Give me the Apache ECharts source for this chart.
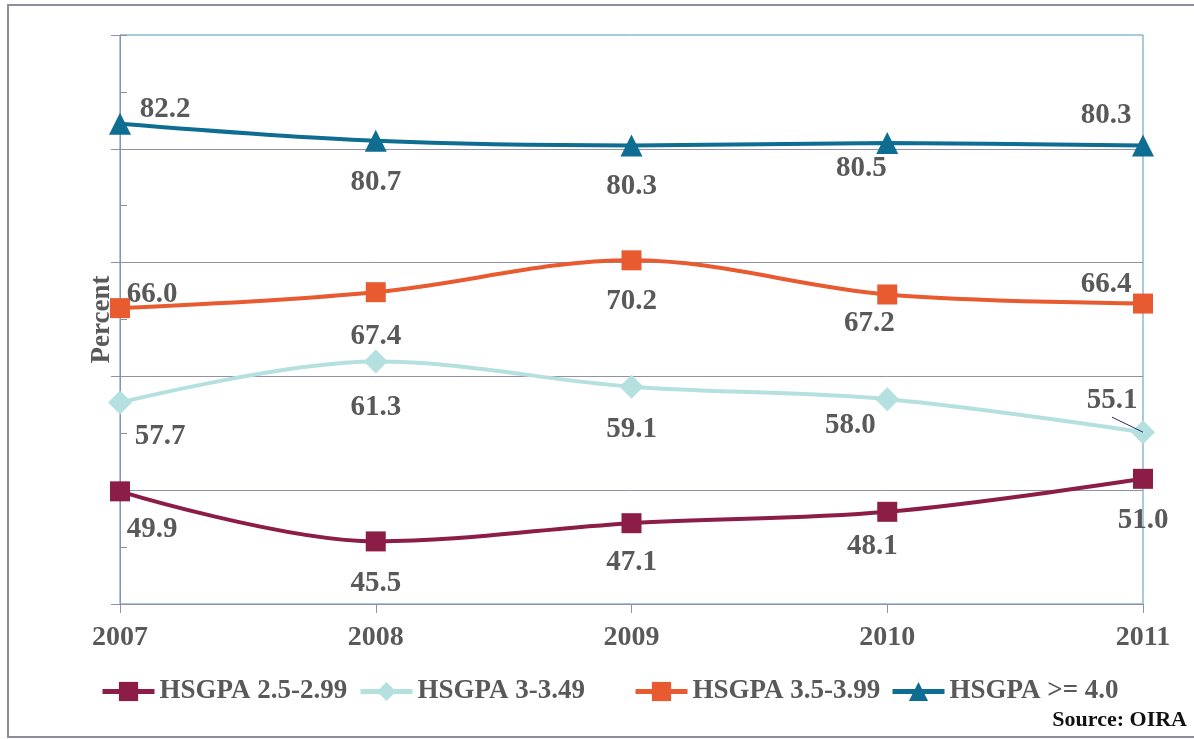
<!DOCTYPE html>
<html>
<head>
<meta charset="utf-8">
<script src="https://cdn.jsdelivr.net/npm/echarts@6/dist/echarts.min.js"></script>
<style>
html,body{margin:0;padding:0;background:#fff;}
#chart{width:1194px;height:739px;}
</style>
</head>
<body>
<div id="chart"></div>
<script>
// ---- data ----
const years = ['2007', '2008', '2009', '2010', '2011'];
const seriesNames = ['HSGPA 2.5-2.99', 'HSGPA 3-3.49', 'HSGPA 3.5-3.99', 'HSGPA >= 4.0'];
const gpa25 = [49.9, 45.5, 47.1, 48.1, 51.0];
const gpa30 = [57.7, 61.3, 59.1, 58.0, 55.1];
const gpa35 = [66.0, 67.4, 70.2, 67.2, 66.4];
const gpa40 = [82.2, 80.7, 80.3, 80.5, 80.3];
const yMin = 40, yMax = 90, yStep = 10, yMinorStep = 5;

// ---- label placement (style only) ----
const offs25 = [[32, 38], [0, 42], [0, 39], [-15, 35], [0, 42]];
const offs30 = [[40, 34], [0, 46], [0, 43], [-37, 26], [-31, -32]];
const offs35 = [[32, -14], [0, 44], [0, 41], [-18, 29], [-37, -19]];
const offs40 = [[45, -14], [0, 42], [0, 41], [-26, 25], [-37, -30]];
const legendLefts = [100, 358, 633, 890];

const colors = ['#8b1d46', '#b5e0e0', '#e85a30', '#0f6d92'];
const symbols = ['rect', 'diamond', 'rect', 'triangle'];
const symbolSizes = [20, 24, 20, 22];
const allData = [gpa25, gpa30, gpa35, gpa40];
const allOffs = [offs25, offs30, offs35, offs40];

const serif = '"Liberation Serif", "Times New Roman", serif';
const txt = '#595959';
const axisGray = '#928fa6';
const teal = '#4e97b3';

const chart = echarts.init(document.getElementById('chart'));

const series = allData.map((vals, s) => ({
  name: seriesNames[s],
  type: 'line',
  smooth: 0.35,
  symbol: symbols[s],
  symbolSize: symbolSizes[s],
  showAllSymbol: true,
  lineStyle: { width: 4, color: colors[s] },
  itemStyle: { color: colors[s] },
  z: 3 + s,
  label: {
    show: true,
    position: 'inside',
    align: 'center',
    verticalAlign: 'middle',
    fontFamily: serif,
    fontWeight: 'bold',
    fontSize: 29,
    color: txt,
    formatter: p => p.value.toFixed(1)
  },
  data: vals.map((v, i) => ({ value: v, label: { offset: allOffs[s][i] } }))
}));

const legends = seriesNames.map((n, s) => ({
  left: legendLefts[s], top: 678, padding: 0,
  itemWidth: 52, itemHeight: 24, itemGap: 11,
  lineStyle: { width: 5 },
  textStyle: { fontFamily: serif, fontWeight: 'bold', fontSize: 27, color: txt },
  data: [n]
}));

const baseGraphic = [
  { type: 'rect', shape: { x: 8, y: 5, width: 1200, height: 732 },
    style: { fill: 'none', stroke: '#8f8c9c', lineWidth: 2 }, silent: true, z: 100 },
  { type: 'text', right: 7, top: 709,
    style: { text: 'Source: OIRA', font: 'bold 22px "Liberation Serif", "Times New Roman", serif', fill: '#111' } }
];

const option = {
  animation: false,
  backgroundColor: '#fff',
  grid: {
    left: 120, right: 51, top: 35, bottom: 135,
    show: true, borderColor: teal, borderWidth: 1, backgroundColor: 'transparent'
  },
  legend: legends,
  xAxis: {
    type: 'category',
    data: years,
    boundaryGap: false,
    axisLine: { lineStyle: { color: axisGray, width: 1 } },
    axisTick: { show: true, length: 9, alignWithLabel: true, lineStyle: { color: axisGray } },
    axisLabel: { margin: 20, fontFamily: serif, fontWeight: 'bold', fontSize: 28, color: txt },
    splitLine: { show: false }
  },
  yAxis: [{
    type: 'value',
    min: yMin, max: yMax, interval: yStep,
    position: 'left',
    name: 'Percent',
    nameLocation: 'middle',
    nameGap: 4,
    nameTextStyle: { fontFamily: serif, fontWeight: 'bold', fontSize: 27, color: txt },
    axisLine: { show: true, lineStyle: { color: axisGray, width: 1 } },
    axisTick: { show: true, length: 9, lineStyle: { color: axisGray } },
    axisLabel: { show: false },
    splitLine: { show: true, showMinLine: false, showMaxLine: false, lineStyle: { color: axisGray, width: 1 } }
  }, {
    type: 'value',
    min: yMin, max: yMax, interval: yMinorStep,
    position: 'left', offset: 0,
    axisLine: { show: false },
    axisTick: { show: true, inside: true, length: 7, lineStyle: { color: axisGray } },
    axisLabel: { show: false },
    splitLine: { show: false }
  }],
  series: series,
  graphic: baseGraphic
};
chart.setOption(option);

// leader line for the 2011 label of HSGPA 3-3.49
const p = chart.convertToPixel({ gridIndex: 0 }, [years[4], gpa30[4]]);
chart.setOption({
  graphic: baseGraphic.concat([
    { type: 'line', shape: { x1: p[0] - 31, y1: p[1] - 15, x2: p[0], y2: p[1] },
      style: { stroke: '#2a2a6a', lineWidth: 1 }, z: 50 }
  ])
});
</script>
</body>
</html>
